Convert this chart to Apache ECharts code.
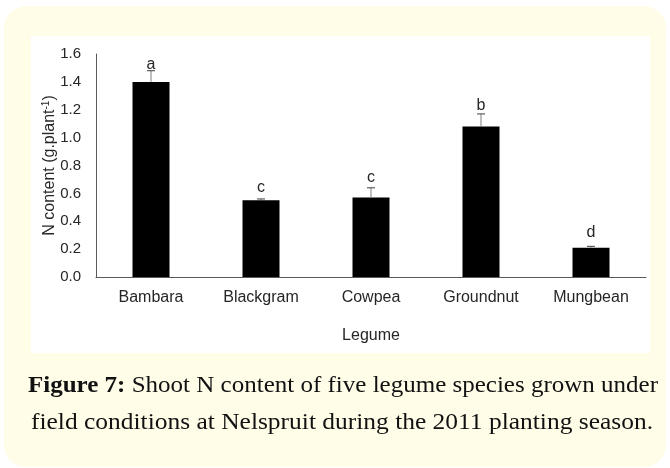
<!DOCTYPE html>
<html>
<head>
<meta charset="utf-8">
<script src="https://cdn.jsdelivr.net/npm/echarts@6/dist/echarts.min.js"></script>
<style>
html,body{margin:0;padding:0;background:#ffffff;}
#chart{width:670px;height:468px;}
</style>
</head>
<body>
<div id="chart"></div>
<script>
// ---- data ----
const categories = ['Bambara', 'Blackgram', 'Cowpea', 'Groundnut', 'Mungbean'];
const nContent = [1.40, 0.55, 0.57, 1.08, 0.21];
const stdError = [0.08, 0.01, 0.07, 0.09, 0.01];
const sigLetters = ['a', 'c', 'c', 'b', 'd'];
const letterBaseline = [1.49, 0.61, 0.68, 1.20, 0.285];
const yMin = 0, yMax = 1.6, yStep = 0.2;
const xAxisTitle = 'Legume';
const yAxisTitleMain = 'N content (g.plant';
const yAxisTitleSup = '-1';
const captionBold = 'Figure 7:';
const captionLine1 = ' Shoot N content of five legume species grown under';
const captionLine2 = 'field conditions at Nelspruit during the 2011 planting season.';

// ---- caption width fitting ----
const SERIF = '"Liberation Serif", "DejaVu Serif", serif';
const capSize = 24;
const mctx = document.createElement('canvas').getContext('2d');
mctx.font = capSize + 'px ' + SERIF;
const w2 = mctx.measureText(captionLine2).width;
const wn1 = mctx.measureText(captionLine1).width;
mctx.font = 'bold ' + capSize + 'px ' + SERIF;
const wb1 = mctx.measureText(captionBold).width;
const capScale2 = 622 / w2;
const capScale1 = 630 / (wn1 + wb1);

const chart = echarts.init(document.getElementById('chart'), null, {renderer: 'canvas'});

const axisFont = '"Liberation Sans", Arial, sans-serif';
const textColor = '#262626';

const option = {
  backgroundColor: '#ffffff',
  animation: false,
  graphic: [
    {type: 'rect', z: -20, shape: {x: 4, y: 6, width: 662, height: 461, r: 22},
     style: {fill: '#FFFCE8'}},
    {type: 'rect', z: -19, shape: {x: 31, y: 36, width: 619, height: 317},
     style: {fill: '#ffffff'}},
    {type: 'text', z: 10, x: 343, y: 398, scaleX: capScale1, scaleY: 1,
     style: {
       text: '{b|' + captionBold + '}{n|' + captionLine1 + '}',
       textAlign: 'center', textVerticalAlign: 'bottom',
       rich: {
         b: {fontFamily: SERIF, fontSize: capSize, fontWeight: 'bold', fill: '#111'},
         n: {fontFamily: SERIF, fontSize: capSize, fill: '#111'}
       }
     }},
    {type: 'text', z: 10, x: 342, y: 435, scaleX: capScale2, scaleY: 1,
     style: {
       text: captionLine2,
       font: capSize + 'px ' + SERIF,
       fill: '#111',
       textAlign: 'center', textVerticalAlign: 'bottom'
     }}
  ],
  grid: {left: 96, right: 24, top: 54, bottom: 191, containLabel: false},
  xAxis: {
    type: 'category',
    data: categories,
    name: xAxisTitle,
    nameLocation: 'middle',
    nameGap: 51,
    nameMoveOverlap: false,
    nameTextStyle: {fontFamily: axisFont, fontSize: 16, color: textColor},
    axisLine: {lineStyle: {color: '#595959', width: 1}},
    axisTick: {show: false},
    axisLabel: {fontFamily: axisFont, fontSize: 16, color: textColor, margin: 13}
  },
  yAxis: {
    type: 'value',
    min: yMin, max: yMax, interval: yStep,
    name: '{n|' + yAxisTitleMain + '}{s|' + yAxisTitleSup + '}{n|)}',
    nameLocation: 'middle',
    nameRotate: 90,
    nameGap: 37,
    nameMoveOverlap: false,
    nameTextStyle: {
      color: textColor,
      rich: {
        n: {fontFamily: axisFont, fontSize: 16, color: textColor, lineHeight: 18},
        s: {fontFamily: axisFont, fontSize: 10, color: textColor, lineHeight: 10, verticalAlign: 'top'}
      }
    },
    axisLine: {show: true, lineStyle: {color: '#595959', width: 1}},
    axisTick: {show: false},
    splitLine: {show: false},
    axisLabel: {
      fontFamily: axisFont, fontSize: 15, color: textColor, margin: 15,
      formatter: v => v.toFixed(1)
    }
  },
  series: [
    {
      type: 'bar',
      data: nContent,
      barWidth: 37,
      itemStyle: {color: '#000000'},
      z: 2
    },
    {
      type: 'custom',
      z: 3,
      data: categories.map((c, i) => [i, nContent[i], stdError[i], letterBaseline[i]]),
      renderItem: function (params, api) {
        const idx = api.value(0);
        const v = api.value(1);
        const e = api.value(2);
        const lb = api.value(3);
        const letter = sigLetters[params.dataIndex];
        const base = api.coord([idx, v]);
        const top = api.coord([idx, v + e]);
        const lp = api.coord([idx, lb]);
        const cap = 4;
        return {
          type: 'group',
          children: [
            {type: 'line', shape: {x1: base[0], y1: base[1], x2: top[0], y2: top[1]},
             style: {stroke: '#7f7f7f', lineWidth: 1}},
            {type: 'line', shape: {x1: top[0] - cap, y1: top[1], x2: top[0] + cap, y2: top[1]},
             style: {stroke: '#404040', lineWidth: 1}},
            {type: 'text', x: lp[0], y: lp[1] + 3.5,
             style: {text: letter, fontFamily: axisFont, fontSize: 16, fill: textColor,
                     textAlign: 'center', textVerticalAlign: 'bottom'}}
          ]
        };
      }
    }
  ]
};
chart.setOption(option);
</script>
</body>
</html>
